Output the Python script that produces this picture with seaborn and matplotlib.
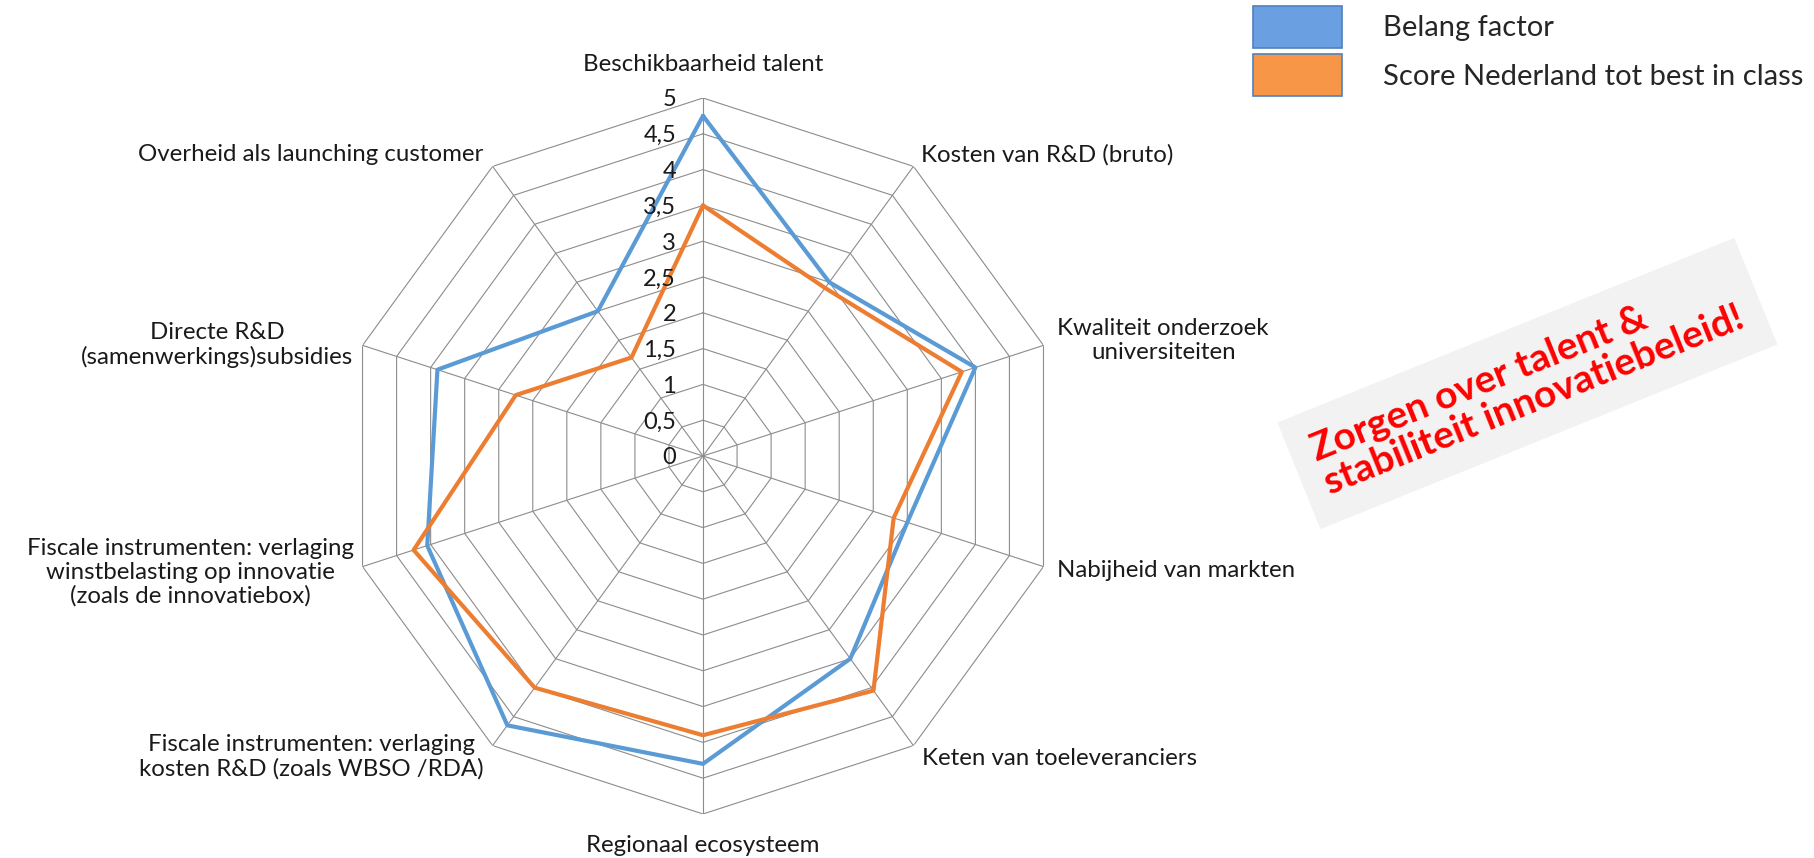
import numpy as np
import pandas as pd
import matplotlib
matplotlib.use('Agg')
import matplotlib.pyplot as plt
import matplotlib.transforms as mtransforms
from matplotlib.patches import Patch
import seaborn as sns

# Radar data
categories = [
    'Beschikbaarheid talent',
    'Kosten van R&D (bruto)',
    'Kwaliteit onderzoek\nuniversiteiten',
    'Nabijheid van markten',
    'Keten van toeleveranciers',
    'Regionaal ecosysteem',
    'Fiscale instrumenten: verlaging\nkosten R&D (zoals WBSO /RDA)',
    'Fiscale instrumenten: verlaging\nwinstbelasting op innovatie\n(zoals de innovatiebox)',
    'Directe R&D\n(samenwerkings)subsidies',
    'Overheid als launching customer',
]
belang_factor = [4.75, 3.0, 4.0, 3.0, 3.5, 4.3, 4.65, 4.05, 3.9, 2.5]
score_nl = [3.5, 2.9, 3.8, 2.8, 4.05, 3.9, 4.0, 4.25, 2.75, 1.7]
series_names = ['Belang factor', 'Score Nederland tot best in class']
ring_ticks = [0, 0.5, 1, 1.5, 2, 2.5, 3, 3.5, 4, 4.5, 5]
ring_labels = ['0', '0,5', '1', '1,5', '2', '2,5', '3', '3,5', '4', '4,5', '5']
callout = 'Zorgen over talent &\nstabiliteit innovatiebeleid!'

line_colors = ['#5B9BD5', '#ED7D31']
box_colors = ['#6A9FE2', '#F79646']
grid_color = '#8C8C8C'

sns.set_theme(style='white')
plt.rcParams['font.family'] = ['Lato', 'DejaVu Sans']

n = len(categories)
angles = [2 * np.pi * i / n for i in range(n)]
closed = angles + angles[:1]

# long-form frame, each series closed back to its first point
rows = []
for name, vals in zip(series_names, [belang_factor, score_nl]):
    for a, v in zip(closed, vals + vals[:1]):
        rows.append({'series': name, 'theta': a, 'value': v})
df = pd.DataFrame(rows)

fig = plt.figure(figsize=(18.14, 8.58), dpi=100)
ax = fig.add_axes([0.1902, 0.0513, 0.3947, 0.8345], projection='polar')
ax.set_theta_zero_location('N')
ax.set_theta_direction(-1)

# polygon grid instead of the default circles
for t in ring_ticks[1:]:
    ax.plot(closed, [t] * len(closed), color=grid_color, lw=0.8, zorder=1)
for a in angles:
    ax.plot([a, a], [0, ring_ticks[-1]], color=grid_color, lw=0.8, zorder=1)

sns.lineplot(data=df, x='theta', y='value', hue='series', palette=line_colors,
             sort=False, estimator=None, lw=3, legend=False, ax=ax, zorder=3)

ax.set_ylim(0, ring_ticks[-1])
ax.set_xticks([])
ax.set_yticks([])
ax.grid(False)
ax.spines['polar'].set_visible(False)
ax.set_xlabel('')
ax.set_ylabel('')
ax.patch.set_alpha(0)

# radial tick labels along the top spoke
for t, lab in zip(ring_ticks, ring_labels):
    tr = mtransforms.offset_copy(ax.transData, fig=fig, x=-27, y=-2, units='dots')
    ax.text(0, t, lab, transform=tr, ha='right', va='center', fontsize=17,
            color='#1a1a1a')

# category labels around the outside
label_style = [
    ('center', 0, 33), ('left', 8, 12), ('left', 14, 5), ('left', 14, -4),
    ('left', 9, -13), ('center', 0, -32), ('right', -9, -11), ('right', -9, -6),
    ('right', -9, 0), ('right', -9, 12),
]
for a, lab, (ha, dx, dy) in zip(angles, categories, label_style):
    tr = mtransforms.offset_copy(ax.transData, fig=fig, x=dx, y=dy, units='dots')
    ax.text(a, ring_ticks[-1], lab, transform=tr, ha=ha, va='center',
            multialignment='center', fontsize=17.3, color='#1a1a1a',
            linespacing=1.15)

# legend with box handles
handles = [Patch(facecolor=c, edgecolor='#4F81BD', lw=1.2) for c in box_colors]
fig.legend(handles, series_names, loc='upper left', bbox_to_anchor=(0.6907, 0.993),
           frameon=False, fontsize=21, handlelength=3.05, handleheight=1.85,
           handletextpad=1.4, labelspacing=0.2, borderpad=0, borderaxespad=0)

# rotated call-out box
fig.text(0.842, 0.553, callout, rotation=22, rotation_mode='anchor',
         ha='center', va='center', multialignment='left', fontsize=28,
         fontweight='bold', color='#FF0000', linespacing=1.05,
         bbox=dict(boxstyle='square,pad=0.56', facecolor='#F2F2F2', edgecolor='none'))

fig.savefig('out.png', dpi=100, facecolor='white')
